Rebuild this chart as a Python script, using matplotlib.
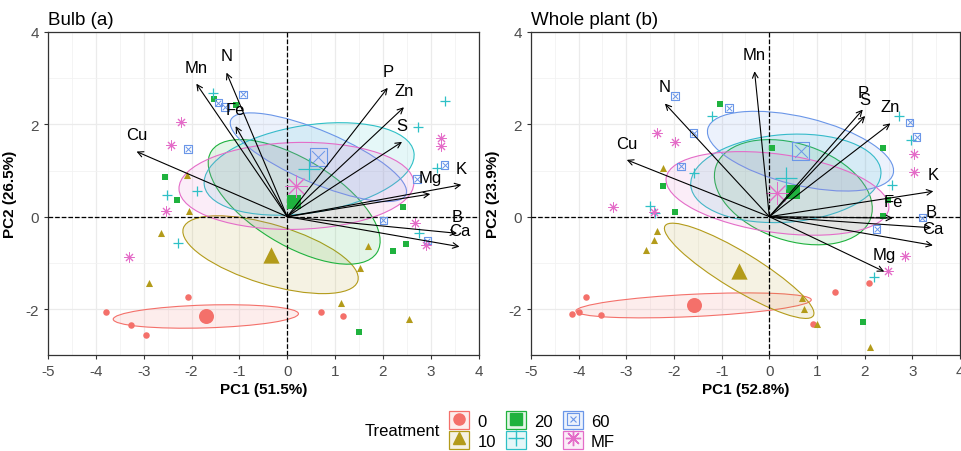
import numpy as np
import matplotlib
matplotlib.use("Agg")
import matplotlib.pyplot as plt
from matplotlib.patches import Ellipse, Patch
from matplotlib.lines import Line2D
from matplotlib.colors import to_rgba

plt.rcParams['font.family'] = ['Liberation Sans', 'DejaVu Sans']
plt.rcParams['axes.unicode_minus'] = False

groups = ['0', '10', '20', '30', '60', 'MF']
colors = ['#F4706A', '#B39B1A', '#1FB23E', '#2EC0C6', '#6A96E8', '#E46CC8']

variables = ['N', 'P', 'K', 'S', 'Ca', 'Mg', 'Fe', 'Mn', 'Zn', 'Cu', 'B']

# Bulb (a)
bulb_pc1 = [
    [-3.79, -3.26, -2.96, -2.07, 0.70, 1.17],
    [-2.10, -2.06, -2.63, -2.89, 1.69, 1.52, 1.13, 2.55],
    [-1.53, -1.08, -2.56, -2.31, 2.43, 2.49, 2.21, 1.51],
    [-1.56, -2.52, -1.88, -2.28, 3.29, 2.73, 3.13, 2.75],
    [-1.44, -1.30, -0.92, -2.07, 3.29, 2.71, 2.01, 2.93],
    [-2.22, -2.44, -2.54, -3.30, 3.22, 3.22, 2.68, 2.91],
]
bulb_pc2 = [
    [-2.07, -2.35, -2.57, -1.75, -2.07, -2.16],
    [0.90, 0.12, -0.35, -1.43, -0.64, -1.11, -1.86, -2.22],
    [2.54, 2.41, 0.85, 0.37, 0.22, -0.60, -0.74, -2.49],
    [2.68, 0.47, 0.55, -0.57, 2.50, 1.94, 1.05, -0.35],
    [2.47, 2.38, 2.65, 1.46, 1.12, 0.82, -0.08, -0.52],
    [2.05, 1.55, 0.12, -0.87, 1.71, 1.53, -0.14, -0.62],
]
bulb_load1 = [-1.27, 2.10, 3.64, 2.40, 3.60, 2.99, -1.08, -1.90, 2.44, -3.15, 3.55]
bulb_load2 = [3.12, 2.79, 0.69, 1.62, -0.65, 0.49, 1.96, 2.88, 2.37, 1.41, -0.36]

# Whole plant (b)
plant_pc1 = [
    [-3.84, -4.14, -4.00, -3.53, 0.91, 1.38, 2.10],
    [-2.24, -2.35, -2.41, -2.58, 0.68, 0.72, 1.00, 2.12],
    [-1.03, -2.24, -1.97, 0.06, 2.39, 2.48, 2.38, 1.96],
    [-1.20, -1.57, -2.50, -2.40, 2.71, 2.97, 2.57, 2.19],
    [-1.98, -0.84, -1.59, -1.85, 2.94, 3.09, 3.21, 2.25],
    [-2.36, -1.98, -2.41, -3.27, 3.03, 3.03, 2.84, 2.48],
]
plant_pc2 = [
    [-1.75, -2.10, -2.06, -2.14, -2.32, -1.64, -1.44],
    [1.05, -0.31, -0.51, -0.72, -1.76, -1.99, -2.32, -2.82],
    [2.43, 0.66, 0.10, 1.48, 1.48, 0.37, 0.01, -2.29],
    [2.17, 0.95, 0.23, 0.08, 2.17, 1.66, 0.69, -1.31],
    [2.61, 2.36, 1.81, 1.09, 2.04, 1.73, -0.02, -0.27],
    [1.82, 1.61, 0.10, 0.21, 1.35, 0.96, -0.85, -1.17],
]
plant_load1 = [-2.19, 1.96, 3.44, 2.01, 3.43, 2.41, 2.59, -0.31, 2.54, -2.99, 3.40]
plant_load2 = [2.45, 2.32, 0.55, 2.18, -0.62, -1.19, -0.03, 3.15, 2.02, 1.23, -0.24]


def draw_marker(ax, x, y, g, c, big=False):
    k = 2.3 if big else 1.0
    if g == '0':
        ax.scatter(x, y, s=22 * k**2, marker='o', color=c, lw=0, zorder=4)
    elif g == '10':
        ax.scatter(x, y, s=26 * k**2, marker='^', color=c, lw=0, zorder=4)
    elif g == '20':
        ax.scatter(x, y, s=20 * k**2, marker='s', color=c, lw=0, zorder=4)
    elif g == '30':
        ax.scatter(x, y, s=50 * k**2, marker='+', color=c, lw=0.9, zorder=4)
    elif g == '60':
        ax.scatter(x, y, s=30 * k**2, marker='s', facecolor='none', edgecolor=c, lw=0.8, zorder=4)
        ax.scatter(x, y, s=16 * k**2, marker='x', color=c, lw=0.7, zorder=4)
    else:
        ax.scatter(x, y, s=45 * k**2, marker=(8, 2, 0), color=c, lw=0.7, zorder=4)


def conf_ellipse(x, y, c):
    x = np.asarray(x)
    y = np.asarray(y)
    n = len(x)
    cov = np.cov(x, y, bias=True) / n
    vals, vecs = np.linalg.eigh(cov)
    t = np.sqrt(-2 * np.log(0.05))
    ang = np.degrees(np.arctan2(vecs[1, 1], vecs[0, 1]))
    return Ellipse((x.mean(), y.mean()), 2 * t * np.sqrt(vals[1]), 2 * t * np.sqrt(vals[0]),
                   angle=ang, facecolor=to_rgba(c, 0.12), edgecolor=c, lw=0.8, zorder=2)


def biplot(ax, pc1, pc2, load1, load2, title, xlab, ylab):
    for i, g in enumerate(groups):
        ax.add_patch(conf_ellipse(pc1[i], pc2[i], colors[i]))
        draw_marker(ax, pc1[i], pc2[i], g, colors[i])
        draw_marker(ax, np.mean(pc1[i]), np.mean(pc2[i]), g, colors[i], big=True)

    ax.axhline(0, color='black', ls='--', lw=0.9, zorder=3)
    ax.axvline(0, color='black', ls='--', lw=0.9, zorder=3)

    for v, a, b in zip(variables, load1, load2):
        ax.annotate('', xy=(a, b), xytext=(0, 0),
                    arrowprops=dict(arrowstyle='->', color='black', lw=0.8,
                                    shrinkA=0, shrinkB=0, mutation_scale=10),
                    zorder=5)
        ax.annotate(v, xy=(a, b), xytext=(0, 12), textcoords='offset points',
                    ha='center', va='center', fontsize=12, zorder=6)

    ax.set_xlim(-5, 4)
    ax.set_ylim(-3, 4)
    ax.set_xticks(np.arange(-5, 5, 1))
    ax.set_xticks(np.arange(-5, 4.1, 0.5), minor=True)
    ax.set_yticks([-2, 0, 2, 4])
    ax.set_yticks([-3, -1, 1, 3], minor=True)
    ax.grid(True, which='major', color='#EBEBEB', lw=0.9, zorder=0)
    ax.grid(True, which='minor', color='#F2F2F2', lw=0.6, zorder=0)
    ax.set_axisbelow(True)
    ax.tick_params(which='major', colors='#333333', labelcolor='#4D4D4D', labelsize=11, length=3)
    ax.tick_params(which='minor', length=0)
    for s in ax.spines.values():
        s.set_color('#333333')
        s.set_linewidth(0.9)
    ax.set_title(title, loc='left', fontsize=13.5, pad=6)
    ax.set_xlabel(xlab, fontweight='bold', fontsize=11, labelpad=3)
    ax.set_ylabel(ylab, fontweight='bold', fontsize=11, labelpad=6)


fig = plt.figure(figsize=(9.61, 4.52), dpi=100)
ax1 = fig.add_axes([0.050, 0.212, 0.448, 0.715])
ax2 = fig.add_axes([0.5525, 0.212, 0.4465, 0.715])

biplot(ax1, bulb_pc1, bulb_pc2, bulb_load1, bulb_load2, 'Bulb (a)', 'PC1 (51.5%)', 'PC2 (26.5%)')
biplot(ax2, plant_pc1, plant_pc2, plant_load1, plant_load2, 'Whole plant (b)', 'PC1 (52.8%)', 'PC2 (23.9%)')

# legend
handles = []
mk = {'0': ('o', 8), '10': ('^', 9), '20': ('s', 8), '30': ('+', 11), 'MF': ((8, 2, 0), 11)}
for g, c in zip(groups, colors):
    box = Patch(facecolor=to_rgba(c, 0.12), edgecolor=c, lw=0.9)
    if g == '60':
        l1 = Line2D([], [], marker='s', ms=8, mfc='none', mec=c, mew=0.8, ls='none')
        l2 = Line2D([], [], marker='x', ms=5, mec=c, mew=0.8, ls='none')
        handles.append((box, l1, l2))
    else:
        m, ms = mk[g]
        handles.append((box, Line2D([], [], marker=m, ms=ms, color=c, mew=1.0, ls='none')))

fig.legend(handles, groups, ncol=3, loc='center left', bbox_to_anchor=(0.455, 0.046),
           frameon=False, fontsize=12, handlelength=1.2, handleheight=1.3,
           labelspacing=0.1, columnspacing=0.6, handletextpad=0.5, borderpad=0.2)
fig.text(0.458, 0.046, 'Treatment', ha='right', va='center', fontsize=12)

fig.savefig('out.png', dpi=100)
